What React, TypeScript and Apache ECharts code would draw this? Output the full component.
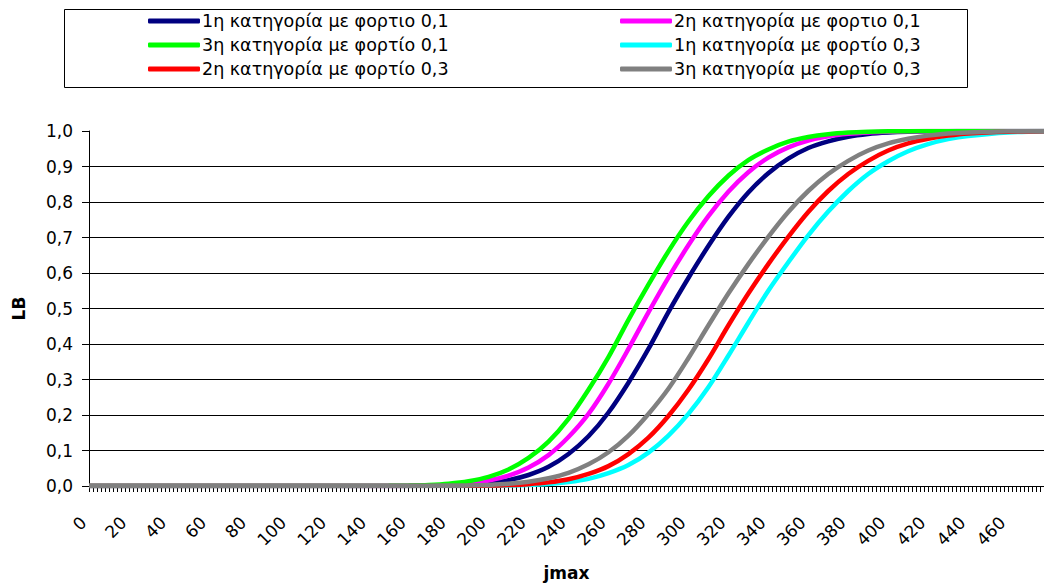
import React, { useEffect, useRef } from "react";
import * as echarts from "echarts";

// jmax sample positions
const jmax = [0, 100, 150, 160, 170, 180, 190, 200, 210, 220, 230, 240, 250, 260, 270, 280, 290, 300, 310, 320, 330, 340, 350, 360, 370, 380, 390, 400, 410, 420, 430, 440, 460, 478];

const seriesNames = [
  "1η κατηγορία με φορτιο 0,1",
  "2η κατηγορία με φορτιο 0,1",
  "3η κατηγορία με φορτίο 0,1",
  "1η κατηγορία με φορτίο 0,3",
  "2η κατηγορία με φορτίο 0,3",
  "3η κατηγορία με φορτίο 0,3",
];
const seriesColors = ["#000080", "#FF00FF", "#00FF00", "#00FFFF", "#FF0000", "#808080"];

const cat1Load01 = [0, 0, 0.0001, 0.0003, 0.0007, 0.0018, 0.0039, 0.0084, 0.0166, 0.031, 0.054, 0.09, 0.14, 0.207, 0.291, 0.386, 0.49, 0.586, 0.676, 0.758, 0.827, 0.881, 0.922, 0.952, 0.971, 0.984, 0.9916, 0.9957, 0.998, 0.999, 0.9995, 0.9998, 1, 1];
const cat2Load01 = [0, 0, 0.0002, 0.0006, 0.0015, 0.0036, 0.0075, 0.0154, 0.0294, 0.052, 0.087, 0.138, 0.203, 0.288, 0.386, 0.489, 0.587, 0.678, 0.76, 0.829, 0.884, 0.925, 0.954, 0.973, 0.985, 0.992, 0.996, 0.998, 0.9992, 0.9997, 0.9999, 1, 1, 1];
const cat3Load01 = [0, 0, 0.0005, 0.0013, 0.003, 0.0066, 0.0135, 0.0256, 0.0465, 0.079, 0.125, 0.189, 0.271, 0.363, 0.468, 0.567, 0.661, 0.745, 0.816, 0.874, 0.918, 0.948, 0.97, 0.983, 0.991, 0.9955, 0.9978, 0.999, 0.9996, 0.9998, 1, 1, 1, 1];
const cat1Load03 = [0, 0, 0, 0.00001, 0.00003, 0.0001, 0.0002, 0.0005, 0.0013, 0.0027, 0.0056, 0.011, 0.02, 0.036, 0.059, 0.094, 0.142, 0.203, 0.278, 0.367, 0.46, 0.55, 0.63, 0.706, 0.773, 0.831, 0.879, 0.915, 0.943, 0.963, 0.977, 0.986, 0.996, 0.9987];
const cat2Load03 = [0, 0, 0.00001, 0.00003, 0.0001, 0.0002, 0.0005, 0.0011, 0.0026, 0.0052, 0.0102, 0.019, 0.034, 0.056, 0.09, 0.136, 0.197, 0.271, 0.357, 0.452, 0.542, 0.625, 0.702, 0.772, 0.831, 0.879, 0.916, 0.945, 0.965, 0.978, 0.987, 0.993, 0.998, 0.9994];
const cat3Load03 = [0, 0, 0.00004, 0.0001, 0.0003, 0.0007, 0.0014, 0.0031, 0.0062, 0.0119, 0.0217, 0.037, 0.061, 0.095, 0.142, 0.203, 0.274, 0.36, 0.452, 0.542, 0.625, 0.702, 0.772, 0.831, 0.879, 0.916, 0.945, 0.965, 0.978, 0.987, 0.993, 0.996, 0.999, 0.9997];

const seriesValues = [cat1Load01, cat2Load01, cat3Load01, cat1Load03, cat2Load03, cat3Load03];

const FONT = "DejaVu Sans";

export default function App() {
  const ref = useRef<HTMLDivElement>(null);
  useEffect(() => {
    if (!ref.current) return;
    const chart = echarts.init(ref.current, null, { renderer: "svg" });
    const series = seriesNames.map((name, i) => ({
      name,
      type: "line",
      data: jmax.map((x, k) => [x, seriesValues[i][k]]),
      showSymbol: false,
      smooth: 0.3,
      lineStyle: { color: seriesColors[i], width: 4.5 },
      itemStyle: { color: seriesColors[i] },
      z: 2 + i,
    }));
    const legendText = { fontFamily: FONT, fontSize: 17.5, color: "#000", lineHeight: 20, padding: [0, 0, 0, -3] };
    chart.setOption({
      animation: false,
      backgroundColor: "#ffffff",
      textStyle: { fontFamily: FONT },
      grid: { left: 89, top: 131, width: 956, height: 355, containLabel: false },
      legend: [
        {
          orient: "vertical",
          left: 148,
          top: 11,
          padding: 0,
          itemGap: 4,
          itemWidth: 52,
          itemHeight: 5,
          icon: "roundRect",
          data: [seriesNames[0], seriesNames[2], seriesNames[4]],
          textStyle: legendText,
          selectedMode: false,
        },
        {
          orient: "vertical",
          left: 620,
          top: 11,
          padding: 0,
          itemGap: 4,
          itemWidth: 52,
          itemHeight: 5,
          icon: "roundRect",
          data: [seriesNames[1], seriesNames[3], seriesNames[5]],
          textStyle: legendText,
          selectedMode: false,
        },
      ],
      graphic: [
        {
          type: "rect",
          shape: { x: 64.5, y: 9.5, width: 903, height: 78 },
          style: { fill: "none", stroke: "#000", lineWidth: 1 },
          silent: true,
        },
      ],
      xAxis: {
        type: "value",
        min: 0,
        max: 478,
        interval: 20,
        name: "jmax",
        nameLocation: "middle",
        nameGap: 78,
        nameTextStyle: { fontFamily: FONT, fontSize: 17, fontWeight: "bold", color: "#000", verticalAlign: "top" },
        axisLine: { show: true, onZero: false, lineStyle: { color: "#000", width: 1 } },
        axisTick: { show: true, length: 6, lineStyle: { color: "#000" } },
        minorTick: { show: true, splitNumber: 10, length: 6, lineStyle: { color: "#000", width: 1 } },
        axisLabel: {
          rotate: 45,
          margin: 28,
          padding: [0, 8, 0, 0],
          fontFamily: FONT,
          fontSize: 17,
          color: "#000",
          showMaxLabel: false,
        },
        splitLine: { show: false },
      },
      yAxis: {
        type: "value",
        min: 0,
        max: 1,
        interval: 0.1,
        name: "LB",
        nameLocation: "middle",
        nameRotate: 90,
        nameGap: 62,
        nameTextStyle: { fontFamily: FONT, fontSize: 17, fontWeight: "bold", color: "#000" },
        axisLine: { show: true, lineStyle: { color: "#000", width: 1 } },
        axisTick: { show: true, length: 7, lineStyle: { color: "#000" } },
        axisLabel: {
          margin: 16,
          fontFamily: FONT,
          fontSize: 17,
          color: "#000",
          formatter: (v: number) => v.toFixed(1).replace(".", ","),
        },
        splitLine: { show: true, showMinLine: false, showMaxLine: false, lineStyle: { color: "#000", width: 1 } },
      },
      series,
    });
    return () => chart.dispose();
  }, []);
  return (
    <div
      ref={ref}
      style={{ position: "fixed", left: 0, top: 0, width: 1044, height: 587, background: "#fff" }}
    />
  );
}
